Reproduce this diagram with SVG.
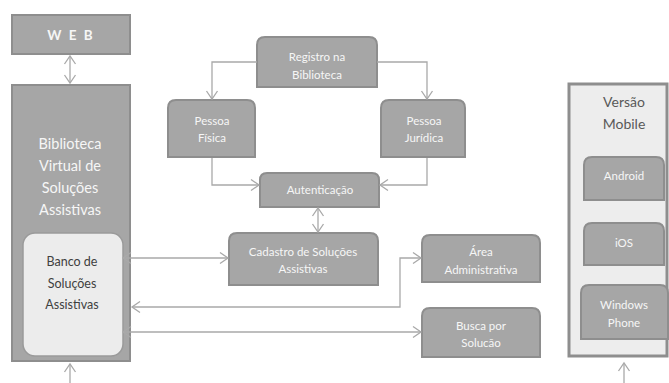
<svg xmlns="http://www.w3.org/2000/svg" width="669" height="383" viewBox="0 0 669 383">
<defs>
<marker id="ah" markerUnits="userSpaceOnUse" markerWidth="14" markerHeight="14" viewBox="-10 -7 12 14" refX="0" refY="0" orient="auto-start-reverse">
<path d="M-8,-5.5 L0,0 L-8,5.5" fill="none" stroke="#a9a9a9" stroke-width="1.3"/>
</marker>
</defs>
<style>
.box{fill:#a6a6a6;stroke:#8e8e8e;stroke-width:2}
.light{fill:#ececec;stroke:#9a9a9a;stroke-width:1.5}
.mob{fill:#ededed;stroke:#8e8e8e;stroke-width:3}
.t{font-family:Lato,"Liberation Sans",sans-serif;font-size:11.5px;fill:#f6f6f6;text-anchor:middle}
.tb{font-family:Lato,"Liberation Sans",sans-serif;font-size:14.5px;fill:#f6f6f6;text-anchor:middle}
.td{font-family:Lato,"Liberation Sans",sans-serif;font-size:12.5px;fill:#404040;text-anchor:middle}
.tm{font-family:Lato,"Liberation Sans",sans-serif;font-size:14px;fill:#595959;text-anchor:middle}
.c{fill:none;stroke:#a9a9a9;stroke-width:1.3}
</style>
<rect width="669" height="383" fill="#ffffff"/>
<g id="web">
<rect class="box" x="12" y="15" width="118" height="39"/>
<text x="71" y="40" style="font-family:Lato,'Liberation Sans',sans-serif;font-size:13.5px;font-weight:bold;fill:#f6f6f6;text-anchor:middle;letter-spacing:2px">W E B</text>
</g>
<g id="biblioteca">
<rect class="box" x="12" y="85" width="118" height="276"/>
<text class="tb" x="70" y="149">Biblioteca</text>
<text class="tb" x="70" y="171">Virtual de</text>
<text class="tb" x="70" y="193">Soluções</text>
<text class="tb" x="70" y="215">Assistivas</text>
</g>
<g id="banco">
<rect class="light" x="23" y="233" width="100" height="123" rx="12"/>
<text class="td" x="72" y="266">Banco de</text>
<text class="td" x="72" y="288">Soluções</text>
<text class="td" x="72" y="309">Assistivas</text>
</g>
<g id="registro">
<path class="box" d="M257,87 V45 Q257,37 265,37 H369 Q377,37 377,45 V87 Z"/>
<text class="t" x="317" y="61">Registro na</text>
<text class="t" x="317" y="79">Biblioteca</text>
</g>
<g id="pessoa-fisica">
<path class="box" d="M168,157 V108 Q168,100 176,100 H247 Q255,100 255,108 V157 Z"/>
<text class="t" x="212" y="125">Pessoa</text>
<text class="t" x="212" y="142">Física</text>
</g>
<g id="pessoa-juridica">
<path class="box" d="M381,157 V108 Q381,100 389,100 H457 Q465,100 465,108 V157 Z"/>
<text class="t" x="424" y="125">Pessoa</text>
<text class="t" x="424" y="142">Jurídica</text>
</g>
<g id="autenticacao">
<path class="box" d="M260,207 V180 Q260,173 267,173 H372 Q379,173 379,180 V207 Z"/>
<text class="t" x="320" y="194">Autenticação</text>
</g>
<g id="cadastro">
<path class="box" d="M229,285 V241 Q229,233 237,233 H370 Q378,233 378,241 V285 Z"/>
<text class="t" x="303" y="256">Cadastro de Soluções</text>
<text class="t" x="303" y="273">Assistivas</text>
</g>
<g id="area">
<path class="box" d="M422,282 V243 Q422,235 430,235 H532 Q540,235 540,243 V282 Z"/>
<text class="t" x="481" y="256">Área</text>
<text class="t" x="481" y="274">Administrativa</text>
</g>
<g id="busca">
<path class="box" d="M422,357 V316 Q422,308 430,308 H532 Q540,308 540,316 V357 Z"/>
<text class="t" x="481" y="330">Busca por</text>
<text class="t" x="481" y="347">Solucão</text>
</g>
<g id="mobile">
<rect class="mob" x="569" y="84" width="98" height="272"/>
<text class="tm" x="624" y="107">Versão</text>
<text class="tm" x="624" y="129">Mobile</text>
</g>
<g id="android">
<path class="box" d="M584,200 V165 Q584,157 592,157 H656 Q664,157 664,165 V200 Z"/>
<text class="t" x="624" y="180">Android</text>
</g>
<g id="ios">
<path class="box" d="M584,265 V231 Q584,223 592,223 H656 Q664,223 664,231 V265 Z"/>
<text class="t" x="624" y="247">iOS</text>
</g>
<g id="windows-phone">
<path class="box" d="M581,339 V293 Q581,285 589,285 H660 Q668,285 668,293 V339 Z"/>
<text class="t" x="624" y="309">Windows</text>
<text class="t" x="624" y="327">Phone</text>
</g>
<g id="connectors">
<line class="c" x1="70" y1="56" x2="70" y2="83" marker-start="url(#ah)" marker-end="url(#ah)"/>
<line class="c" x1="70" y1="383" x2="70" y2="364" marker-end="url(#ah)"/>
<polyline class="c" points="257,62 212,62 212,99" marker-end="url(#ah)"/>
<polyline class="c" points="377,62 427,62 427,99" marker-end="url(#ah)"/>
<polyline class="c" points="212,158 212,185 259,185" marker-end="url(#ah)"/>
<polyline class="c" points="427,158 427,185 380,185" marker-end="url(#ah)"/>
<line class="c" x1="318" y1="208" x2="318" y2="232" marker-start="url(#ah)" marker-end="url(#ah)"/>
<line class="c" x1="123" y1="258" x2="228" y2="258" marker-start="url(#ah)" marker-end="url(#ah)"/>
<polyline class="c" points="132,307 400,307 400,258 421,258" marker-start="url(#ah)" marker-end="url(#ah)"/>
<line class="c" x1="123" y1="332" x2="421" y2="332" marker-start="url(#ah)" marker-end="url(#ah)"/>
<line class="c" x1="624" y1="383" x2="624" y2="363" marker-end="url(#ah)"/>
</g>
</svg>
